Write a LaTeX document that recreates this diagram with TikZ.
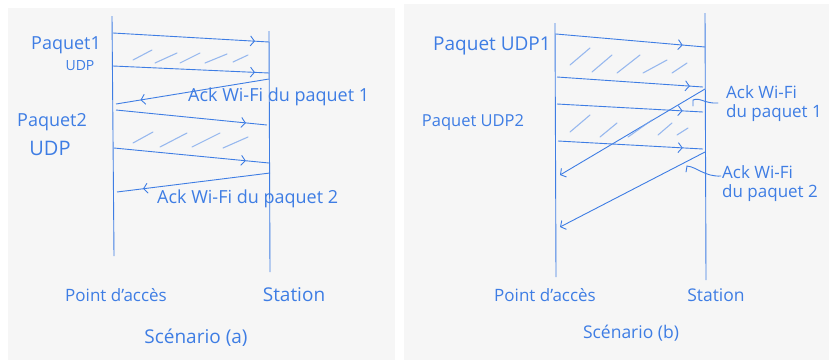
\documentclass[tikz,border=0pt]{standalone}
\usepackage{fontspec}
\setmainfont{Open Sans}
\usetikzlibrary{arrows.meta,decorations.markings}
\definecolor{ink}{RGB}{62,125,228}
\definecolor{paper}{RGB}{246,246,246}
\newcommand{\fsz}[1]{\fontsize{#1}{#1}\selectfont}
\tikzset{
  x=1pt,y=-1pt,
  life/.style={draw=ink,line width=0.9pt},
  msg/.style={draw=ink,line width=0.9pt,postaction={decorate},
    decoration={markings,mark=at position #1 with {\arrow{Straight Barb[length=4pt,width=10pt,line width=0.9pt]}}}},
  ackb/.style={draw=ink,line width=0.9pt,-{Straight Barb[length=4pt,width=10pt,line width=0.9pt]}},
  hatch/.style={draw=ink!70,line width=1.1pt,line cap=round,opacity=0.75},
  lbl/.style={text=ink,font=\fsz{18},inner sep=0pt},
  mlbl/.style={text=ink,font=\fontsize{17}{19}\selectfont,inner sep=0pt,align=left},
  ptr/.style={draw=ink,line width=0.9pt,line cap=round}
}
\begin{document}
\begin{tikzpicture}
\useasboundingbox (0,0) rectangle (829,360);
\fill[paper] (8,8) rectangle (395,360);
\fill[paper] (404,4) rectangle (829,360);

% ---------------- Scenario (a) ----------------
\coordinate (apaT) at (112,16);  \coordinate (apaB) at (114,256);
\coordinate (staT) at (269,31);  \coordinate (staB) at (270,272);
\draw[life] (apaT) -- (apaB);
\draw[life] (staT) -- (staB);

\coordinate (a1s) at (113,33);  \coordinate (a1e) at (269,42);
\coordinate (a2s) at (113,66);  \coordinate (a2e) at (269,73);
\coordinate (k1s) at (269,79);  \coordinate (k1e) at (116,104);
\coordinate (a3s) at (116,110); \coordinate (a3e) at (267,125);
\coordinate (a4s) at (114,148); \coordinate (a4e) at (269,163);
\coordinate (k2s) at (270,173); \coordinate (k2e) at (117,192);

\draw[msg=0.91] (a1s) -- (a1e);
\draw[msg=0.91] (a2s) -- (a2e);
\draw[msg=0.84] (k1s) -- (k1e);
\draw[msg=0.86] (a3s) -- (a3e);
\draw[msg=0.85] (a4s) -- (a4e);
\draw[msg=0.83] (k2s) -- (k2e);

\draw[hatch] (133,60) -- (152,50);
\draw[hatch] (155,63) -- (177,53);
\draw[hatch] (180,63) -- (200,53);
\draw[hatch] (205,63) -- (227,54);
\draw[hatch] (233,62) -- (248,55);

\draw[hatch] (133,143) -- (153,132);
\draw[hatch] (160,147) -- (187,133);
\draw[hatch] (192,147) -- (220,133);
\draw[hatch] (223,148) -- (248,137);

\node[lbl] (pa1) at (66,45) {Paquet1};
\node[lbl,font=\fsz{14}] (ua1) at (80,66) {UDP};
\node[lbl] (pa2) at (52,122) {Paquet2};
\node[lbl,font=\fsz{20}] (ua2) at (50,148) {UDP};
\node[lbl,anchor=west] (ka1) at (188,97) {Ack Wi-Fi du paquet 1};
\node[lbl,anchor=west] (ka2) at (157,199) {Ack Wi-Fi du paquet 2};
\node[lbl,font=\fsz{17}] (apa) at (116,295) {Point d'accès};
\node[lbl,font=\fsz{19}] (sta) at (294,295) {Station};
\node[lbl,font=\fsz{19}] (sca) at (196,338) {Scénario (a)};

% ---------------- Scenario (b) ----------------
\coordinate (apbT) at (555,23);  \coordinate (apbB) at (556,277);
\coordinate (stbT) at (705,13);  \coordinate (stbB) at (706,280);
\draw[life] (apbT) -- (apbB);
\draw[life] (stbT) -- (stbB);

\coordinate (b1s) at (556,34);  \coordinate (b1e) at (705,47);
\coordinate (b2s) at (557,77);  \coordinate (b2e) at (703,87);
\coordinate (l1s) at (705,89);  \coordinate (l1e) at (560,175);
\coordinate (b3s) at (557,104); \coordinate (b3e) at (703,112);
\coordinate (b4s) at (558,141); \coordinate (b4e) at (703,149);
\coordinate (l2s) at (705,152); \coordinate (l2e) at (560,227);

\draw[msg=0.85] (b1s) -- (b1e);
\draw[msg=0.91] (b2s) -- (b2e);
\draw[msg=0.86] (b3s) -- (b3e);
\draw[msg=0.86] (b4s) -- (b4e);
\draw[ackb] (l1s) -- (l1e);
\draw[ackb] (l2s) -- (l2e);

\draw[hatch] (570,65) -- (590,48);
\draw[hatch] (592,72) -- (612,55);
\draw[hatch] (617,73) -- (640,55);
\draw[hatch] (643,73) -- (667,60);
\draw[hatch] (672,73) -- (687,63);

\draw[hatch] (570,132) -- (590,115);
\draw[hatch] (600,137) -- (617,123);
\draw[hatch] (628,137) -- (652,120);
\draw[hatch] (658,135) -- (672,123);
\draw[hatch] (677,135) -- (688,128);

\node[lbl,font=\fsz{19}] (pb1) at (492,46) {Paquet UDP1};
\node[lbl,font=\fsz{16.5}] (pb2) at (473,123) {Paquet UDP2};
\node[mlbl,anchor=west] (kb1) at (726,104) {Ack Wi-Fi\\du paquet 1};
\node[mlbl,anchor=west] (kb2) at (722,184) {Ack Wi-Fi\\du paquet 2};
\node[lbl,font=\fsz{17}] (apb) at (545,295) {Point d'accès};
\node[lbl,font=\fsz{17.5}] (stb) at (716,295) {Station};
\node[lbl,font=\fsz{17.5}] (scb) at (631,333) {Scénario (b)};

\coordinate (q1) at (693,106);
\coordinate (q2) at (686,172);
\coordinate (r1) at (718,103);
\coordinate (r2) at (721,176);
\draw[ptr] (r1) .. controls (705,104) and (700,97) .. (693,100) -- (q1);
\draw[ptr] (r2) .. controls (705,177) and (697,167) .. (687,166) -- (q2);
\end{tikzpicture}
\end{document}
